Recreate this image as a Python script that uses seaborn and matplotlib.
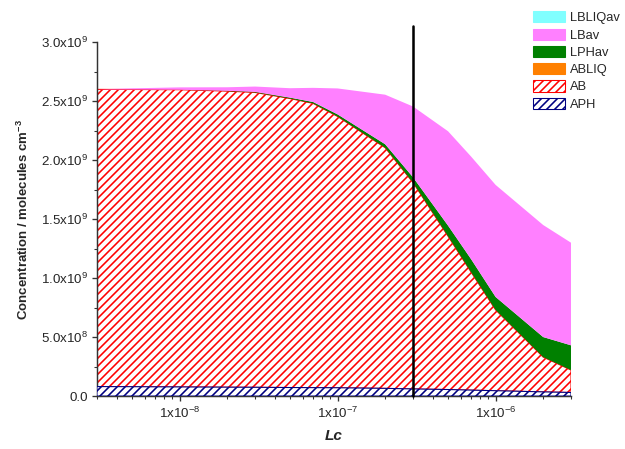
import seaborn as sns
import matplotlib.pyplot as plt
import matplotlib.patches as mpatches
import numpy as np

# data (stacked areas, bottom to top)
lc = [3e-9, 5e-9, 1e-8, 2e-8, 3e-8, 5e-8, 7e-8, 1e-7, 2e-7, 3e-7, 5e-7, 7e-7, 1e-6, 2e-6, 3e-6]
aph = [0.080e9, 0.079e9, 0.077e9, 0.075e9, 0.074e9, 0.072e9, 0.071e9, 0.070e9, 0.065e9, 0.060e9, 0.055e9, 0.050e9, 0.045e9, 0.035e9, 0.030e9]
ab = [2.52e9, 2.52e9, 2.52e9, 2.51e9, 2.50e9, 2.45e9, 2.41e9, 2.30e9, 2.04e9, 1.75e9, 1.30e9, 1.00e9, 0.685e9, 0.295e9, 0.19e9]
abliq = [0.0] * len(lc)
lphav = [0.0, 0.0, 0.0, 0.003e9, 0.005e9, 0.008e9, 0.012e9, 0.018e9, 0.03e9, 0.045e9, 0.09e9, 0.11e9, 0.11e9, 0.17e9, 0.21e9]
lbav = [0.0, 0.01e9, 0.02e9, 0.03e9, 0.045e9, 0.08e9, 0.12e9, 0.22e9, 0.42e9, 0.60e9, 0.80e9, 0.87e9, 0.95e9, 0.95e9, 0.87e9]
lbliqav = [0.0] * len(lc)

names = ["APH", "AB", "ABLIQ", "LPHav", "LBav", "LBLIQav"]
colors = ["white", "white", "#FF8000", "#008000", "#FF80FF", "#80FFFF"]
edges = ["#000080", "#FF0000", "#FF8000", "#008000", "#FF80FF", "#80FFFF"]
hatches = ["////", "////", None, None, None, None]
vline_x = 3e-7

sns.set_style("ticks")
plt.rcParams['font.family'] = ['Liberation Sans', 'DejaVu Sans']
plt.rcParams['mathtext.fontset'] = 'custom'
plt.rcParams['mathtext.rm'] = 'Liberation Sans'
plt.rcParams['mathtext.it'] = 'Liberation Sans:italic'
plt.rcParams['mathtext.bf'] = 'Liberation Sans:bold'
plt.rcParams['mathtext.default'] = 'regular'
plt.rcParams['hatch.linewidth'] = 1.2

# 96 dpi so that the hatch spacing comes out at whole pixels
fig = plt.figure(figsize=(625 / 96, 449 / 96), dpi=96)
ax = fig.add_axes([0.1552, 0.118, 0.7584, 0.788])

x = np.array(lc)
layers = np.vstack([aph, ab, abliq, lphav, lbav, lbliqav])
tops = np.cumsum(layers, axis=0)
bottoms = np.vstack([np.zeros(len(lc)), tops[:-1]])

for i, (fc, ec, h) in enumerate(zip(colors, edges, hatches)):
    if h:
        ax.fill(np.r_[x, x[::-1]], np.r_[tops[i], bottoms[i][::-1]],
                facecolor=fc, edgecolor=ec, hatch=h, lw=0.8, zorder=3 if i == 0 else 2)
    else:
        ax.fill_between(x, bottoms[i], tops[i], facecolor=fc, edgecolor="none", lw=0, zorder=2)

ax.axvline(vline_x, ymin=0, ymax=1.045, color="black", lw=1.9, zorder=5, clip_on=False)

ax.set_xscale("log")
ax.set_xlim(3e-9, 3e-6)
ax.set_ylim(0, 3.0e9)

ax.set_xticks([1e-8, 1e-7, 1e-6])
ax.set_xticklabels([r"1x10$^{-8}$", r"1x10$^{-7}$", r"1x10$^{-6}$"], fontsize=10)
yt = [0, 0.5e9, 1.0e9, 1.5e9, 2.0e9, 2.5e9, 3.0e9]
ax.set_yticks(yt)
ax.set_yticklabels(["0.0", r"5.0x10$^{8}$", r"1.0x10$^{9}$", r"1.5x10$^{9}$",
                    r"2.0x10$^{9}$", r"2.5x10$^{9}$", r"3.0x10$^{9}$"], fontsize=10)
ax.set_yticks(np.arange(0.25e9, 3.0e9, 0.5e9), minor=True)
ax.tick_params(which="major", direction="out", length=4, width=1.0, color="#333333", pad=3)
ax.tick_params(which="minor", direction="out", length=2.3, width=0.8, color="#333333")

for s in ["top", "right"]:
    ax.spines[s].set_visible(False)
for s in ["left", "bottom"]:
    ax.spines[s].set_linewidth(1.1)
    ax.spines[s].set_color("#333333")

ax.set_ylabel(r"Concentration / molecules cm$^{\mathbf{-3}}$", fontsize=9.9, fontweight="bold")
ax.yaxis.set_label_coords(-0.140, 0.5)
ax.set_xlabel("Lc", fontsize=11.5, fontweight="bold", fontstyle="italic", labelpad=6)

handles = [mpatches.Patch(facecolor=fc, edgecolor=ec, hatch=h, lw=0.8)
           for fc, ec, h in zip(colors, edges, hatches)]
fig.legend(handles[::-1], names[::-1], loc="upper left", bbox_to_anchor=(0.853, 0.975),
           frameon=False, fontsize=9.7, handlelength=2.5, handleheight=0.95,
           labelspacing=0.33, handletextpad=0.35, borderpad=0, borderaxespad=0)

fig.savefig("out.png", dpi=96)
